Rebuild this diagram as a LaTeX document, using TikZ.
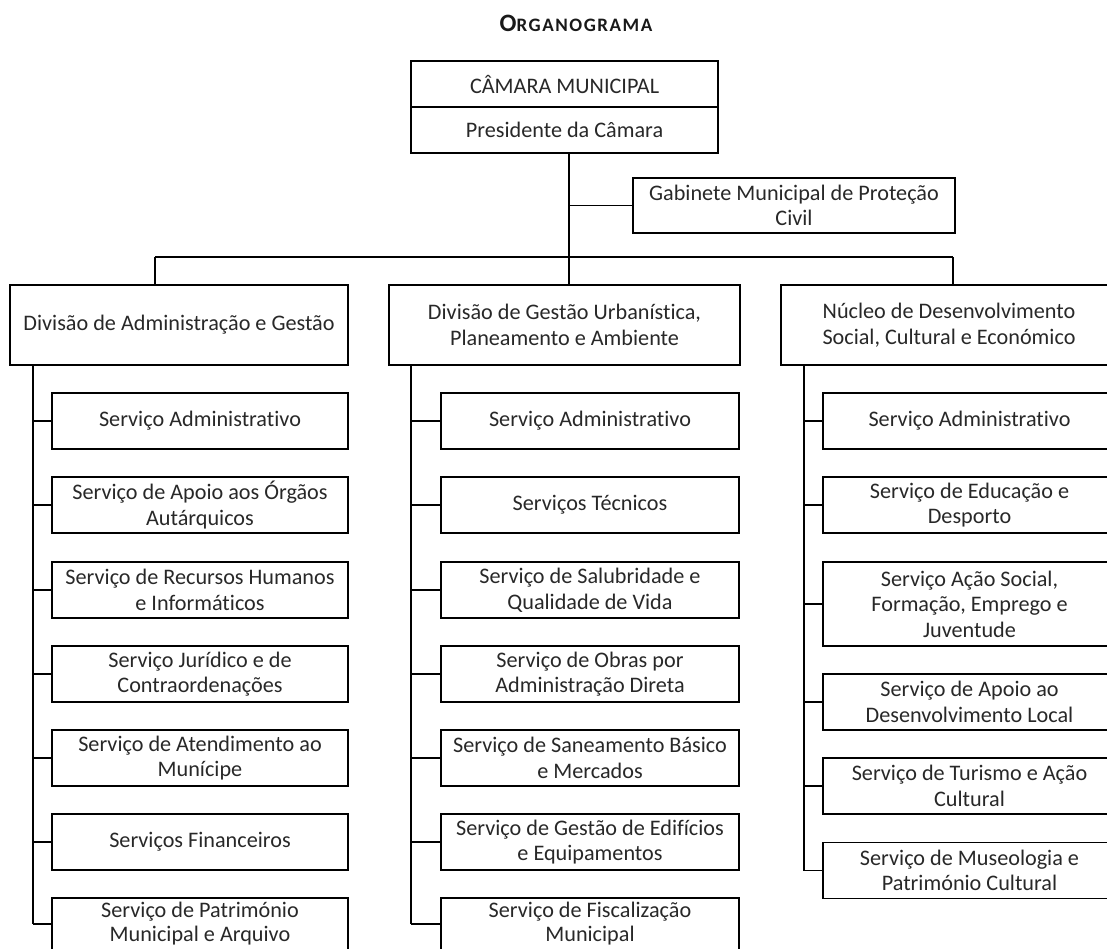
\documentclass[tikz,border=0pt]{standalone}
\usepackage{fontspec}
\setmainfont{Carlito}[Ligatures={NoCommon}]
\definecolor{txt}{RGB}{40,40,40}
\tikzset{
  box/.style={draw=black, line width=1.4pt, inner sep=0pt, align=center, text=txt,
    font=\fontsize{22.2}{25.5}\selectfont},
  lastbox/.style={box, font=\fontsize{22.2}{24}\selectfont},
  link/.style={draw=black, line width=1.4pt},
}
\begin{document}
\begin{tikzpicture}[x=1pt,y=-1pt]
\useasboundingbox (0,0) rectangle (1107,948);
% title
\node[text=black!90] (title) at (576,23) {\bfseries\addfontfeatures{LetterSpace=8}{\fontsize{25}{25}\selectfont O}{\fontsize{19}{25}\selectfont RGANOGRAMA}};
% top
\node[box, minimum width=307pt, minimum height=46pt] (cam) at (564.5,84) {CÂMARA MUNICIPAL};
\node[box, minimum width=307pt, minimum height=46pt] (pres) at (564.5,130) {Presidente da Câmara};
\node[box, minimum width=322pt, minimum height=55pt] (gab) at (794,205.5) {Gabinete Municipal de Proteção\\Civil};
% headers
\node[box, minimum width=338pt, minimum height=80pt] (h1) at (179,325) {Divisão de Administração e Gestão};
\node[box, minimum width=351pt, minimum height=80pt] (h2) at (564.5,325) {Divisão de Gestão Urbanística,\\Planeamento e Ambiente};
\node[box, minimum width=336pt, minimum height=80pt] (h3) at (949,325) {Núcleo de Desenvolvimento\\Social, Cultural e Económico};
% column 1
\node[box, minimum width=296pt, minimum height=56pt] (a1) at (200,421) {Serviço Administrativo};
\node[box, minimum width=296pt, minimum height=56pt] (a2) at (200,505) {Serviço de Apoio aos Órgãos\\Autárquicos};
\node[box, minimum width=296pt, minimum height=56pt] (a3) at (200,590) {Serviço de Recursos Humanos\\e Informáticos};
\node[box, minimum width=296pt, minimum height=56pt] (a4) at (200,674) {Serviço Jurídico e de\\Contraordenações};
\node[box, minimum width=296pt, minimum height=56pt] (a5) at (200,758) {Serviço de Atendimento ao\\Munícipe};
\node[box, minimum width=296pt, minimum height=56pt] (a6) at (200,842) {Serviços Financeiros};
\node[lastbox, minimum width=296pt, minimum height=52pt] (a7) at (200,924) {Serviço de Património\\Municipal e Arquivo};
% column 2
\node[box, minimum width=298pt, minimum height=56pt] (b1) at (590,421) {Serviço Administrativo};
\node[box, minimum width=298pt, minimum height=56pt] (b2) at (590,505) {Serviços Técnicos};
\node[box, minimum width=298pt, minimum height=56pt] (b3) at (590,590) {Serviço de Salubridade e\\Qualidade de Vida};
\node[box, minimum width=298pt, minimum height=56pt] (b4) at (590,674) {Serviço de Obras por\\Administração Direta};
\node[box, minimum width=298pt, minimum height=56pt] (b5) at (590,758) {Serviço de Saneamento Básico\\e Mercados};
\node[box, minimum width=298pt, minimum height=56pt] (b6) at (590,842) {Serviço de Gestão de Edifícios\\e Equipamentos};
\node[lastbox, minimum width=298pt, minimum height=52pt] (b7) at (590,924) {Serviço de Fiscalização\\Municipal};
% extend the last boxes below the page edge as in the reference
\draw[link] (a7.north west) -- ++(0,60) (a7.north east) -- ++(0,60);
\draw[link] (b7.north west) -- ++(0,60) (b7.north east) -- ++(0,60);
% column 3
\node[box, minimum width=293pt, minimum height=56pt] (c1) at (969.5,421) {Serviço Administrativo};
\node[box, minimum width=293pt, minimum height=56pt] (c2) at (969.5,505) {Serviço de Educação e\\Desporto};
\node[box, minimum width=293pt, minimum height=84pt] (c3) at (969.5,604) {Serviço Ação Social,\\Formação, Emprego e\\Juventude};
\node[box, minimum width=293pt, minimum height=56pt] (c4) at (969.5,702) {Serviço de Apoio ao\\Desenvolvimento Local};
\node[box, minimum width=293pt, minimum height=56pt] (c5) at (969.5,786) {Serviço de Turismo e Ação\\Cultural};
\node[box, minimum width=293pt, minimum height=56pt] (c6) at (969.5,870.5) {Serviço de Museologia e\\Património Cultural};
% connectors
\coordinate (trunk) at (569,0);
\coordinate (busL) at (155,257);
\coordinate (busR) at (953,257);
\coordinate (s1) at (33,0);
\coordinate (s2) at (411,0);
\coordinate (s3) at (804,0);
\draw[link] (pres.south -| trunk) -- (trunk |- h2.north);
\draw[link] (trunk |- gab.west) -- (gab.west);
\draw[link] (busL) -- (busR);
\draw[link] (busL) -- (busL |- h1.north);
\draw[link] (busR) -- (busR |- h3.north);
\draw[link] (h1.south -| s1) -- (s1 |- a7.west);
\draw[link] (h2.south -| s2) -- (s2 |- b7.west);
\draw[link] (h3.south -| s3) -- (s3 |- c6.west);
\foreach \i in {1,...,7}{
  \draw[link] (s1 |- a\i.west) -- (a\i.west);
  \draw[link] (s2 |- b\i.west) -- (b\i.west);
}
\foreach \i in {1,...,6}{
  \draw[link] (s3 |- c\i.west) -- (c\i.west);
}
\end{tikzpicture}
\end{document}
